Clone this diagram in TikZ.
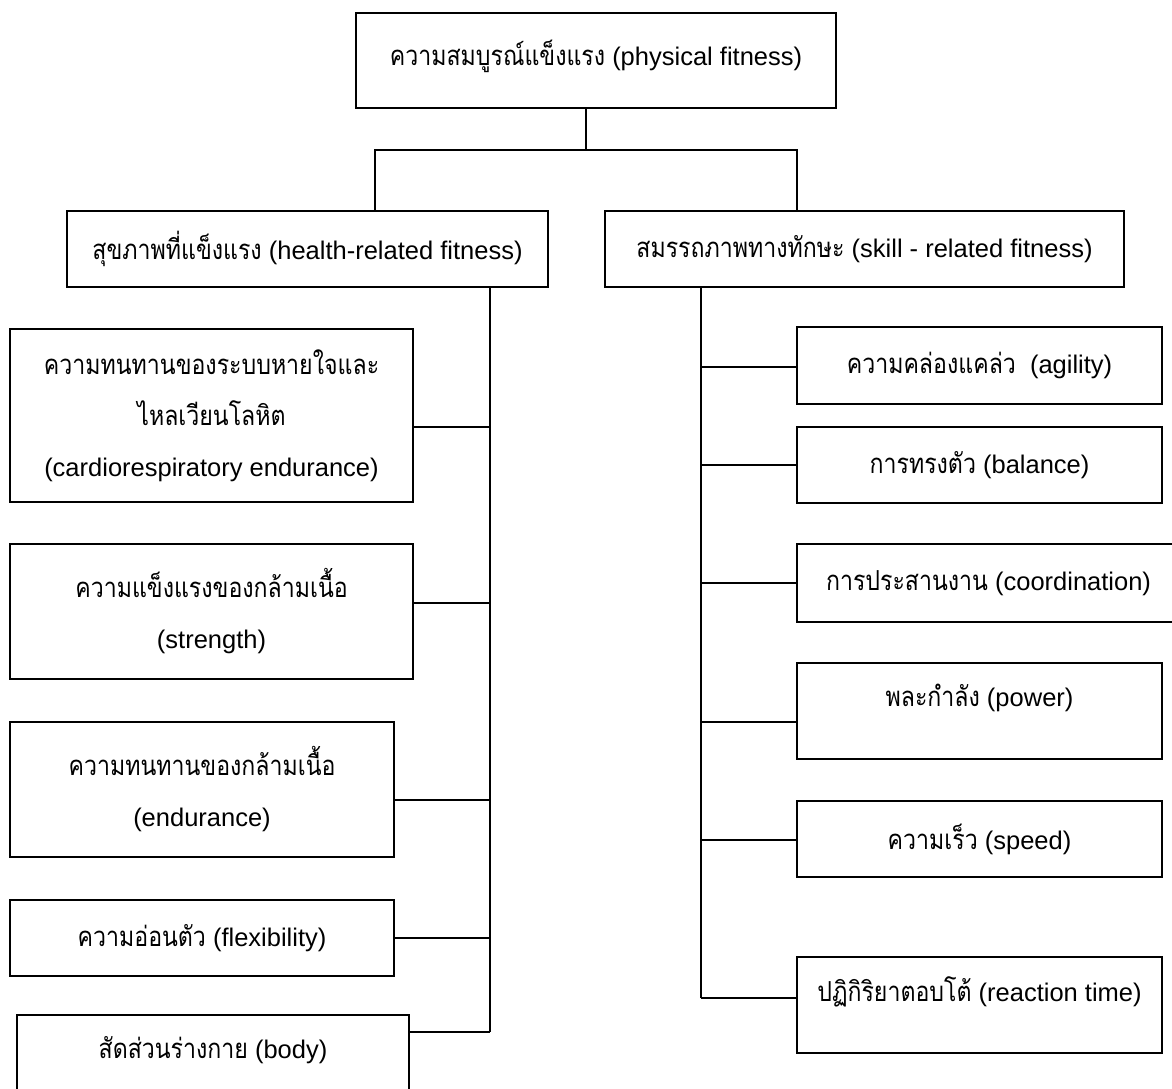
\documentclass[tikz,border=0pt]{standalone}
\usepackage{fontspec}
\setmainfont{Liberation Sans}
\newfontfamily\thaifont[Script=Thai, Scale=1.08, FakeStretch=0.84]{Loma}
\newcommand{\thtxt}[1]{{\thaifont #1}}

\begin{document}
\begin{tikzpicture}[x=1pt, y=-1pt,
    box/.style={draw, line width=1.3pt, inner sep=0pt, align=center,
      font=\fontsize{25.5}{51}\selectfont},
    link/.style={line width=1.3pt}]
    \useasboundingbox (0,0) rectangle (1172,1089);
    \clip (0,0) rectangle (1172,1089);
    % top level
    \node[box, minimum width=480, minimum height=95, text depth=16pt] (fit) at (596,60.5) {\thtxt{ความสมบูรณ์แข็งแรง} (physical fitness)};
    \node[box, minimum width=481, minimum height=76] (health) at (307.5,249) {\thtxt{สุขภาพที่แข็งแรง} (health-related fitness)};
    \node[box, minimum width=519, minimum height=76] (skill) at (864.5,249) {\thtxt{สมรรถภาพทางทักษะ} (skill - related fitness)};
    % health-related branch
    \node[box, minimum width=403, minimum height=173] (cardio) at (211.5,415.5) {\thtxt{ความทนทานของระบบหายใจและ}\\\thtxt{ไหลเวียนโลหิต}\\(cardiorespiratory endurance)};
    \node[box, minimum width=403, minimum height=135] (strength) at (211.5,611.5) {\thtxt{ความแข็งแรงของกล้ามเนื้อ}\\(strength)};
    \node[box, minimum width=384, minimum height=135] (endur) at (202,789.5) {\thtxt{ความทนทานของกล้ามเนื้อ}\\(endurance)};
    \node[box, minimum width=384, minimum height=76] (flex) at (202,938) {\thtxt{ความอ่อนตัว} (flexibility)};
    \node[box, minimum width=392, minimum height=85, text depth=20pt] (body) at (213,1057.5) {\thtxt{สัดส่วนร่างกาย} (body)};
    % skill-related branch
    \node[box, minimum width=365, minimum height=77] (agility) at (979.5,365.5) {\thtxt{ความคล่องแคล่ว}~ (agility)};
    \node[box, minimum width=365, minimum height=76] (balance) at (979.5,465) {\thtxt{การทรงตัว} (balance)};
    \node[box, minimum width=383, minimum height=78] (coord) at (988.5,583) {\thtxt{การประสานงาน} (coordination)};
    \node[box, minimum width=365, minimum height=96, text depth=31pt] (power) at (979.5,711) {\thtxt{พละกำลัง} (power)};
    \node[box, minimum width=365, minimum height=76] (speed) at (979.5,839) {\thtxt{ความเร็ว} (speed)};
    \node[box, minimum width=365, minimum height=96, text depth=32pt] (react) at (979.5,1005) {\thtxt{ปฏิกิริยาตอบโต้} (reaction time)};

    % tree lines
    \coordinate (split) at (586,150);
    \coordinate (jl) at (375,150);
    \coordinate (jr) at (797,150);
    \coordinate (lend) at (490,1032);
    \coordinate (rend) at (701,998);
    \draw[link] (fit.south -| split) -- (split);
    \draw[link] (health.north -| jl) -- (jl) -- (jr) -- (skill.north -| jr);
    \draw[link] (health.south -| lend) -- (lend);
    \draw[link] (skill.south -| rend) -- (rend);
    \foreach \n/\y in {cardio/427, strength/603, endur/800, flex/938, body/1032}
        \draw[link] (\n.east |- 0,\y) -- (lend |- 0,\y);
    \foreach \n/\y in {agility/367, balance/465, coord/583, power/722, speed/840, react/998}
        \draw[link] (rend |- 0,\y) -- (\n.west |- 0,\y);
\end{tikzpicture}
\end{document}
